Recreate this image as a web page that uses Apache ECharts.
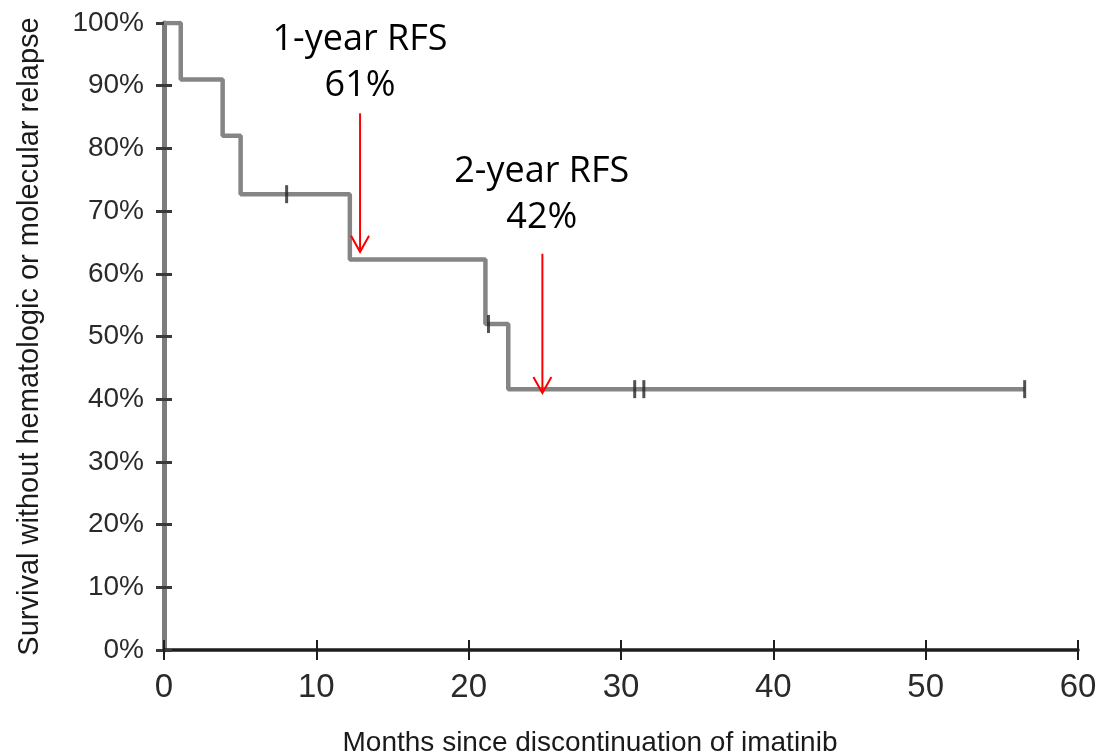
<!DOCTYPE html>
<html>
<head>
<meta charset="utf-8">
<script src="https://cdn.jsdelivr.net/npm/echarts@6/dist/echarts.min.js"></script>
<style>
html,body{margin:0;padding:0;background:#fff;}
#main{width:1103px;height:755px;}
</style>
</head>
<body>
<div id="main"></div>
<script>
// Kaplan-Meier step points: [months, survival %]
var stepMonths = [0, 1.1, 3.85, 5.03, 12.2, 21.1, 22.6, 56.5];
var stepSurvival = [100, 91, 82, 72.7, 62.3, 52, 41.6, 41.6];
// censored observations
var censorMonths = [8.05, 21.3, 30.9, 31.5, 56.5];
var censorSurvival = [72.7, 52, 41.6, 41.6, 41.6];
// arrows: x, top, tip
var arrowMonths = [12.87, 24.84];
var arrowTop = [85.6, 63.2];
var arrowTip = [63.5, 41.0];
// annotations
var annoLines1 = ['1-year RFS', '2-year RFS'];
var annoLines2 = ['61%', '42%'];
var annoMonths = [12.87, 24.8];
var annoY1 = [97.3, 76.2];
var annoY2 = [90.0, 69.0];
// axes
var xMin = 0, xMax = 60, xStep = 10;
var yMin = 0, yMax = 100, yStep = 10;
var xTitle = 'Months since discontinuation of imatinib';
var yTitle = 'Survival without hematologic or molecular relapse';

var stepData = stepMonths.map(function (m, i) { return [m, stepSurvival[i]]; });
var censorData = censorMonths.map(function (m, i) { return [m, censorSurvival[i]]; });
var arrowData = arrowMonths.map(function (m, i) { return [m, arrowTop[i], arrowTip[i]]; });
var annoData = [];
annoMonths.forEach(function (m, i) {
  annoData.push([m, annoY1[i], i, 0]);
  annoData.push([m, annoY2[i], i, 1]);
});

var labelFont = 'Liberation Sans, Arial, sans-serif';
var chart = echarts.init(document.getElementById('main'), null, {renderer: 'canvas'});
var grid = {left: 164, right: 25, top: 23, bottom: 105, containLabel: false, outerBoundsMode: 'none'};
var option = {
  animation: false,
  backgroundColor: '#ffffff',
  grid: grid,
  xAxis: [{
    type: 'value', min: xMin, max: xMax, interval: xStep,
    name: xTitle, nameLocation: 'middle', nameGap: 79,
    nameTextStyle: {fontFamily: labelFont, fontSize: 28, color: '#1a1a1a', padding: [0, 62, 0, 0]},
    axisLine: {show: true, lineStyle: {color: '#1e1e1e', width: 3.5}},
    axisTick: {show: true, length: 10, lineStyle: {color: '#1e1e1e', width: 2}},
    axisLabel: {fontFamily: labelFont, fontSize: 33, color: '#2a2a2a', margin: 21},
    splitLine: {show: false}
  }, {
    type: 'value', min: xMin, max: xMax, interval: xStep, position: 'bottom',
    axisLine: {show: false},
    axisTick: {show: true, inside: true, length: 10, lineStyle: {color: '#1e1e1e', width: 2}},
    axisLabel: {show: false}, splitLine: {show: false}
  }],
  yAxis: [{
    type: 'value', min: yMin, max: yMax, interval: yStep,
    name: yTitle, nameLocation: 'middle', nameGap: 120, nameRotate: 90,
    nameTextStyle: {fontFamily: labelFont, fontSize: 29, color: '#1a1a1a'},
    axisLine: {show: true, lineStyle: {color: '#7c7c7c', width: 5}},
    axisTick: {show: true, length: 8, lineStyle: {color: '#3a3a3a', width: 3}},
    axisLabel: {fontFamily: labelFont, fontSize: 28, color: '#2a2a2a', margin: 20, formatter: '{value}%'},
    splitLine: {show: false}
  }, {
    type: 'value', min: yMin, max: yMax, interval: yStep, position: 'left',
    axisLine: {show: false},
    axisTick: {show: true, inside: true, length: 8, lineStyle: {color: '#3a3a3a', width: 3}},
    axisLabel: {show: false}, splitLine: {show: false}
  }],
  series: [{
    type: 'line', xAxisIndex: 0, yAxisIndex: 0,
    data: stepData, step: 'end', symbol: 'none',
    lineStyle: {color: '#858585', width: 4.5},
    z: 3
  }, {
    type: 'scatter', xAxisIndex: 0, yAxisIndex: 0,
    data: censorData, symbol: 'rect', symbolSize: [3, 18],
    itemStyle: {color: '#262626'}, z: 4
  }, {
    type: 'custom', xAxisIndex: 0, yAxisIndex: 0, clip: false, z: 5,
    data: arrowData,
    renderItem: function (params, api) {
      var top = api.coord([api.value(0), api.value(1)]);
      var tip = api.coord([api.value(0), api.value(2)]);
      return {
        type: 'group',
        children: [{
          type: 'line',
          shape: {x1: top[0], y1: top[1], x2: tip[0], y2: tip[1]},
          style: {stroke: '#ff0000', lineWidth: 2}
        }, {
          type: 'polyline',
          shape: {points: [[tip[0] - 9, tip[1] - 16], [tip[0], tip[1]], [tip[0] + 9, tip[1] - 16]]},
          style: {stroke: '#ff0000', lineWidth: 2, fill: null}
        }]
      };
    }
  }, {
    type: 'custom', xAxisIndex: 0, yAxisIndex: 0, clip: false, z: 6,
    data: annoData,
    renderItem: function (params, api) {
      var p = api.coord([api.value(0), api.value(1)]);
      var i = api.value(2), line = api.value(3);
      var txt = line === 0 ? annoLines1[i] : annoLines2[i];
      return {
        type: 'text',
        x: p[0], y: p[1],
        style: {
          text: txt, fill: '#000000',
          font: '36px "Open Sans", sans-serif',
          align: 'center', verticalAlign: 'middle'
        }
      };
    }
  }]
};
chart.setOption(option);
</script>
</body>
</html>
